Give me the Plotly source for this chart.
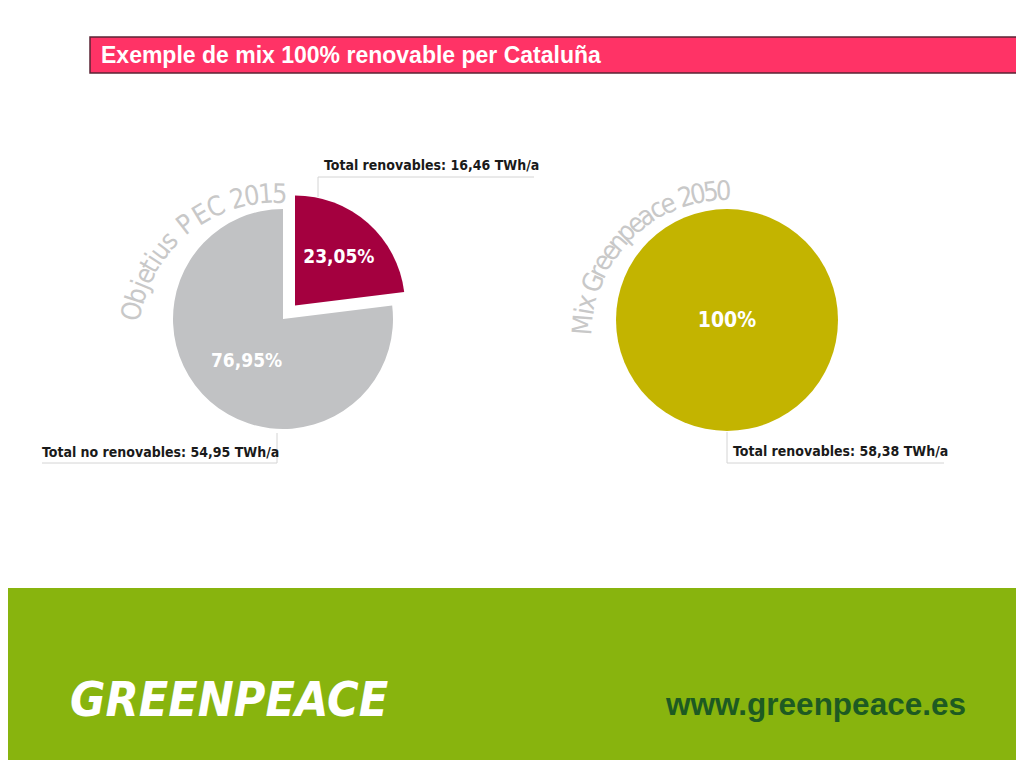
import math
import plotly.graph_objects as go

# page body has an 8px margin: figure is placed at (8, 8)
OFF = 8
W, H = 1016, 752

# ---------------- data ----------------
title_text = "Exemple de mix 100% renovable per Cataluña"
pec_title = "Objetius PEC 2015"
pec_labels = ["Renovables", "No renovables"]
pec_values = [16.46, 54.95]          # TWh/a
pec_text = ["23,05%", "76,95%"]
gp_title = "Mix Greenpeace 2050"
gp_labels = ["Renovables"]
gp_values = [58.38]                  # TWh/a
gp_text = ["100%"]
brand_text = "GREENPEACE"
url_text = "www.greenpeace.es"


def X(px):
    return min(max((px - OFF) / W, 0), 1)


def Y(py):
    return min(max(1 - (py - OFF) / H, 0), 1)


def fmt(v):
    return f"{v:.2f}".replace(".", ",")


BOLD_NARROW = "Liberation Sans Narrow, DejaVu Sans Condensed, Arial Narrow, sans-serif"
LIGHT_NARROW = "Liberation Sans Narrow, DejaVu Sans Condensed, Arial Narrow, sans-serif"

fig = go.Figure()

# left pie (PEC 2015)
r1 = 110
pull = 0.165
half1 = r1 * (1 + pull)
cx1, cy1 = 283, 319
fig.add_trace(go.Pie(
    labels=pec_labels, values=pec_values, text=pec_text,
    texttemplate="<b>%{text}</b>", textinfo="text", textposition="inside",
    insidetextorientation="horizontal",
    sort=False, direction="clockwise", rotation=0,
    pull=[pull, 0],
    marker=dict(colors=["#a4003f", "#c1c2c4"], line=dict(width=0)),
    textfont=dict(family=BOLD_NARROW, size=19, color="white"),
    domain=dict(x=[X(cx1 - half1), X(cx1 + half1)], y=[Y(cy1 + half1), Y(cy1 - half1)]),
    hoverinfo="label+value", showlegend=False,
))

# right pie (Greenpeace 2050)
r2 = 111
cx2, cy2 = 727, 320
fig.add_trace(go.Pie(
    labels=gp_labels, values=gp_values, text=gp_text,
    texttemplate="<b>%{text}</b>", textinfo="text", textposition="inside",
    insidetextorientation="horizontal",
    sort=False, direction="clockwise",
    marker=dict(colors=["#c3b400"], line=dict(width=0)),
    textfont=dict(family=BOLD_NARROW, size=21, color="white"),
    domain=dict(x=[X(cx2 - r2), X(cx2 + r2)], y=[Y(cy2 + r2), Y(cy2 - r2)]),
    hoverinfo="label+value", showlegend=False,
))

shapes = []
annotations = []

# title bar
shapes.append(dict(type="rect", xref="paper", yref="paper",
                   x0=X(90), x1=X(1022), y0=Y(73), y1=Y(37),
                   fillcolor="#ff3366", line=dict(color="#5a2434", width=1.5), layer="below"))
annotations.append(dict(xref="paper", yref="paper", x=X(99), y=Y(55),
                        xanchor="left", yanchor="middle", showarrow=False,
                        text=f"<b>{title_text}</b>",
                        font=dict(family="Liberation Sans, Arial, sans-serif", size=23, color="white")))

# footer
shapes.append(dict(type="rect", xref="paper", yref="paper",
                   x0=X(3), x1=X(1024), y0=Y(768), y1=Y(588),
                   fillcolor="#88b40e", line=dict(width=0), layer="below"))
annotations.append(dict(xref="paper", yref="paper", x=X(68), y=Y(699),
                        xanchor="left", yanchor="middle", showarrow=False,
                        text=f"<b><i>{brand_text}</i></b>",
                        font=dict(family=BOLD_NARROW, size=48, color="white")))
annotations.append(dict(xref="paper", yref="paper", x=X(968), y=Y(704),
                        xanchor="right", yanchor="middle", showarrow=False,
                        text=f"<b>{url_text}</b>",
                        font=dict(family="Liberation Sans, Arial, sans-serif", size=31.5, color="#1d5a22")))

# callouts
LINE = dict(color="#d4d4d4", width=1)


def seg(x0, y0, x1, y1):
    shapes.append(dict(type="line", xref="paper", yref="paper",
                       x0=X(x0), y0=Y(y0), x1=X(x1), y1=Y(y1), line=LINE))


CALL = dict(family=BOLD_NARROW, size=14, color="#1a1a1a")

seg(318, 177, 318, 197)
seg(318, 177, 534, 177)
annotations.append(dict(xref="paper", yref="paper", x=X(322), y=Y(165),
                        xanchor="left", yanchor="middle", showarrow=False,
                        text=f"<b>Total renovables: {fmt(pec_values[0])} TWh/a</b>",
                        font=CALL))

seg(277, 433, 277, 463)
seg(42, 463, 277, 463)
annotations.append(dict(xref="paper", yref="paper", x=X(40), y=Y(452),
                        xanchor="left", yanchor="middle", showarrow=False,
                        text=f"<b>Total no renovables: {fmt(pec_values[1])} TWh/a</b>",
                        font=CALL))

seg(727, 432, 727, 463)
seg(727, 463, 944, 463)
annotations.append(dict(xref="paper", yref="paper", x=X(731), y=Y(451),
                        xanchor="left", yanchor="middle", showarrow=False,
                        text=f"<b>Total renovables: {fmt(gp_values[0])} TWh/a</b>",
                        font=CALL))


# curved grey titles (one annotation per character along an arc)
def char_w(c):
    if c in "ijlt .,I":
        return 0.26
    if c in "fr":
        return 0.34
    if c in "mwM":
        return 0.78
    if c.isupper():
        return 0.6
    return 0.5


def arc_text(text, cx, cy, R, a0, a1, size):
    ws = [char_w(c) for c in text]
    centers = []
    acc = 0
    for w in ws:
        centers.append(acc + w / 2)
        acc += w
    c0, c1 = centers[0], centers[-1]
    for c, pos in zip(text, centers):
        if c == " ":
            continue
        t = (pos - c0) / (c1 - c0)
        ang = a0 + t * (a1 - a0)
        rad = math.radians(ang)
        px = cx + R * math.sin(rad)
        py = cy - R * math.cos(rad)
        annotations.append(dict(xref="paper", yref="paper", x=X(px), y=Y(py),
                                xanchor="center", yanchor="middle", showarrow=False,
                                text=c, textangle=ang,
                                font=dict(family=LIGHT_NARROW, size=size, color="#c8c8c8")))


arc_text(pec_title, 276, 340, 147, -78.5, 1.5, 27)
arc_text(gp_title, 728, 336, 146, -85.5, -1.9, 27)

fig.update_layout(
    width=W, height=H,
    margin=dict(l=0, r=0, t=0, b=0),
    paper_bgcolor="white", plot_bgcolor="white",
    shapes=shapes, annotations=annotations,
    showlegend=False,
)

fig.write_html("out.html")
